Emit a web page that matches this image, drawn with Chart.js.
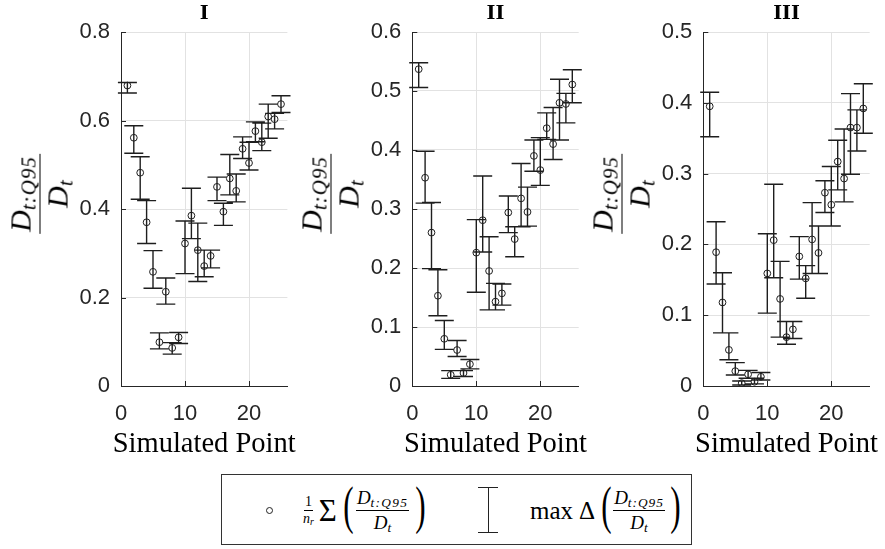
<!DOCTYPE html>
<html><head><meta charset="utf-8">
<script src="https://cdn.jsdelivr.net/npm/chart.js@4.4.1/dist/chart.umd.min.js"></script>
<style>
html,body{margin:0;padding:0;background:#fff;}
body{width:885px;height:549px;position:relative;overflow:hidden;}
canvas{position:absolute;top:0;}
.ml{position:absolute;z-index:5;white-space:nowrap;color:#000;font-family:"Liberation Serif",serif;}
.ylab{transform:translate(-50%,-50%) rotate(-90deg);}
.frac{display:inline-flex;flex-direction:column;align-items:center;}
.frac>span{display:block;text-align:center;white-space:nowrap;}
.frac>.n{border-bottom:1.2px solid #000;}
i{font-style:italic;}
sub{font-size:0.7em;vertical-align:-0.25em;line-height:0;font-style:italic;}
.par{display:inline-block;font-size:52px;line-height:1;width:11px;text-align:center;transform:scaleX(0.6);position:relative;top:-4px;font-family:"Liberation Serif",serif;}
</style>
</head><body>
<canvas id="c1" width="300" height="460" style="left:0px"></canvas>
<canvas id="c2" width="300" height="460" style="left:290px"></canvas>
<canvas id="c3" width="302" height="460" style="left:583px"></canvas>

<div class="ml ylab" style="left:39px;top:194px">
  <span class="frac" style="font-size:30px;line-height:1">
    <span class="n" style="padding:0 2px 4px"><i>D</i><sub style="letter-spacing:1px">t:Q95</sub></span>
    <span class="d" style="padding-top:2px"><i>D</i><sub>t</sub></span>
  </span>
</div>
<div class="ml ylab" style="left:330px;top:194px">
  <span class="frac" style="font-size:30px;line-height:1">
    <span class="n" style="padding:0 2px 4px"><i>D</i><sub style="letter-spacing:1px">t:Q95</sub></span>
    <span class="d" style="padding-top:2px"><i>D</i><sub>t</sub></span>
  </span>
</div>
<div class="ml ylab" style="left:621px;top:194px">
  <span class="frac" style="font-size:30px;line-height:1">
    <span class="n" style="padding:0 2px 4px"><i>D</i><sub style="letter-spacing:1px">t:Q95</sub></span>
    <span class="d" style="padding-top:2px"><i>D</i><sub>t</sub></span>
  </span>
</div>

<div style="position:absolute;left:221px;top:474px;width:469px;height:69px;border:1.5px solid #333;"></div>
<div style="position:absolute;left:266px;top:506.5px;width:7px;height:7px;border:1px solid #222;border-radius:50%;box-sizing:border-box;"></div>
<div class="ml" style="left:303px;top:510px;transform:translateY(-50%);display:flex;align-items:center;">
  <span class="frac" style="font-size:14px;line-height:1">
    <span class="n" style="padding:0 1px 1px">1</span>
    <span class="d" style="padding-top:1px"><i>n</i><sub>r</sub></span>
  </span>
  <span style="font-size:31px;line-height:1;margin:0 4px 0 5px;">Σ</span>
  <span class="par">(</span>
  <span class="frac" style="font-size:19px;line-height:1;margin:0 4px">
    <span class="n" style="padding:0 1px 3px"><i>D</i><sub style="letter-spacing:1.3px">t:Q95</sub></span>
    <span class="d" style="padding-top:2px"><i>D</i><sub>t</sub></span>
  </span>
  <span class="par">)</span>
</div>
<div style="position:absolute;left:487.5px;top:487px;width:1.4px;height:46px;background:#222;"></div>
<div style="position:absolute;left:478px;top:486.5px;width:20px;height:1.4px;background:#222;"></div>
<div style="position:absolute;left:478px;top:532px;width:20px;height:1.4px;background:#222;"></div>
<div class="ml" style="left:530px;top:510px;transform:translateY(-50%);display:flex;align-items:center;">
  <span style="font-size:25px;line-height:1;margin-right:6px;">max</span>
  <span style="font-size:25px;line-height:1;margin-right:4px;">Δ</span>
  <span class="par">(</span>
  <span class="frac" style="font-size:19px;line-height:1;margin:0 3px">
    <span class="n" style="padding:0 1px 3px"><i>D</i><sub style="letter-spacing:1px">t:Q95</sub></span>
    <span class="d" style="padding-top:2px"><i>D</i><sub>t</sub></span>
  </span>
  <span class="par">)</span>
</div>

<script>
// ---- data ----
const points = [1,2,3,4,5,6,7,8,9,10,11,12,13,14,15,16,17,18,19,20,21,22,23,24,25];
const xTicks = [0,10,20];

const titleI = 'I', titleII = 'II', titleIII = 'III';
const yTicksI = [0,0.2,0.4,0.6,0.8];
const meanI = [0.679,0.561,0.482,0.370,0.258,0.099,0.213,0.086,0.110,0.322,0.385,0.307,0.271,0.294,0.450,0.394,0.469,0.441,0.536,0.504,0.576,0.551,0.609,0.603,0.637];
const lowI  = [0.662,0.526,0.422,0.322,0.221,0.084,0.185,0.072,0.096,0.254,0.333,0.236,0.247,0.267,0.419,0.363,0.432,0.416,0.514,0.488,0.552,0.532,0.560,0.581,0.618];
const highI = [0.686,0.588,0.518,0.419,0.306,0.120,0.244,0.098,0.121,0.373,0.447,0.368,0.307,0.307,0.472,0.413,0.523,0.479,0.563,0.551,0.597,0.594,0.637,0.616,0.656];

const yTicksII = [0,0.1,0.2,0.3,0.4,0.5,0.6];
const meanII = [0.537,0.353,0.260,0.153,0.080,0.019,0.061,0.022,0.037,0.226,0.281,0.195,0.143,0.157,0.294,0.249,0.318,0.295,0.390,0.366,0.437,0.410,0.480,0.478,0.511];
const lowII  = [0.506,0.310,0.199,0.119,0.062,0.013,0.050,0.016,0.029,0.159,0.227,0.129,0.129,0.137,0.260,0.219,0.270,0.271,0.364,0.340,0.418,0.384,0.417,0.446,0.480];
const highII = [0.548,0.398,0.311,0.197,0.111,0.026,0.077,0.026,0.045,0.282,0.356,0.253,0.174,0.173,0.322,0.270,0.377,0.337,0.417,0.421,0.463,0.472,0.520,0.496,0.536];

const yTicksIII = [0,0.1,0.2,0.3,0.4,0.5];
const meanIII = [0.395,0.189,0.118,0.051,0.021,0.004,0.0165,0.006,0.013,0.159,0.206,0.123,0.069,0.080,0.183,0.152,0.207,0.188,0.273,0.256,0.317,0.293,0.365,0.365,0.392];
const lowIII  = [0.352,0.144,0.075,0.037,0.0155,0.0014,0.011,0.003,0.0085,0.103,0.153,0.069,0.059,0.067,0.151,0.124,0.159,0.159,0.245,0.226,0.277,0.260,0.299,0.332,0.357];
const highIII = [0.415,0.232,0.160,0.075,0.033,0.007,0.022,0.011,0.019,0.215,0.285,0.176,0.091,0.091,0.211,0.170,0.259,0.226,0.290,0.310,0.347,0.363,0.413,0.390,0.427];

const xLabel = 'Simulated Point';

// ---- style ----
const AX = '#262626', GRID = '#e2e2e2', MARK = '#1e1e1e', CAP = 9.5;
const SERIF = "'Liberation Serif', 'Times New Roman', serif";
const TSERIF = "'DejaVu Serif', serif";
const SANS = "'Liberation Sans', Arial, sans-serif";

const errorBars = {
  id: 'errorBars',
  beforeDatasetsDraw(chart) {
    const {ctx, scales: {x, y}} = chart;
    const ds = chart.data.datasets[0];
    ctx.save();
    ctx.strokeStyle = MARK; ctx.lineWidth = 1.4;
    ctx.beginPath();
    ds.data.forEach((d, i) => {
      const px = x.getPixelForValue(d.x);
      const pl = y.getPixelForValue(ds.errLo[i]);
      const ph = y.getPixelForValue(ds.errHi[i]);
      ctx.moveTo(px, pl); ctx.lineTo(px, ph);
      ctx.moveTo(px - CAP, ph); ctx.lineTo(px + CAP, ph);
      ctx.moveTo(px - CAP, pl); ctx.lineTo(px + CAP, pl);
    });
    ctx.stroke();
    ctx.restore();
  }
};

// inward tick marks + x-axis label (drawn without width squeezing)
const axisExtras = {
  id: 'axisExtras',
  afterDraw(chart) {
    const {ctx, chartArea: a, scales: {x, y}} = chart;
    ctx.save();
    ctx.strokeStyle = AX; ctx.lineWidth = 1;
    ctx.beginPath();
    x.ticks.forEach(t => {
      const px = Math.round(x.getPixelForValue(t.value)) + 0.5;
      ctx.moveTo(px, a.bottom); ctx.lineTo(px, a.bottom - 5);
    });
    y.ticks.forEach(t => {
      const py = Math.round(y.getPixelForValue(t.value)) + 0.5;
      ctx.moveTo(a.left, py); ctx.lineTo(a.left + 5, py);
    });
    ctx.stroke();
    ctx.fillStyle = '#000';
    ctx.font = "28.5px " + SERIF;
    ctx.textAlign = 'center';
    ctx.textBaseline = 'alphabetic';
    ctx.fillText(xLabel, (a.left + a.right) / 2, a.bottom + 66);
    ctx.restore();
  }
};

function panel(id, title, means, lows, highs, yTicks, yAxisW, padR) {
  return new Chart(document.getElementById(id), {
    type: 'scatter',
    data: {
      datasets: [{
        data: points.map((p, i) => ({x: p, y: means[i]})),
        errLo: lows, errHi: highs,
        pointRadius: 3.4, pointHoverRadius: 3.4, pointBorderWidth: 1,
        pointBorderColor: MARK, pointBackgroundColor: 'rgba(0,0,0,0)',
        showLine: false
      }]
    },
    options: {
      responsive: false, animation: false, devicePixelRatio: 1, events: [],
      layout: {padding: {left: 0, right: padR, top: 0, bottom: 0}},
      plugins: {
        legend: {display: false}, tooltip: {enabled: false},
        title: {display: true, text: title, fullSize: false, color: '#000',
          font: {family: TSERIF, size: 19, weight: 'bold', lineHeight: 1.2},
          padding: {top: 2.2, bottom: 7}}
      },
      scales: {
        x: {
          type: 'linear', min: 0, max: 26,
          afterBuildTicks: s => { s.ticks = xTicks.map(v => ({value: v})); },
          afterFit: s => { s.height = 74; },
          grid: {color: GRID, lineWidth: 1, drawTicks: false},
          border: {color: AX, width: 1},
          ticks: {padding: 15, color: AX, maxRotation: 0, autoSkip: false,
            font: {family: SANS, size: 22}, callback: v => String(v)}
        },
        y: {
          type: 'linear', min: yTicks[0], max: yTicks[yTicks.length - 1],
          afterBuildTicks: s => { s.ticks = yTicks.map(v => ({value: v})); },
          afterFit: s => { s.width = yAxisW; },
          grid: {color: GRID, lineWidth: 1, drawTicks: false},
          border: {color: AX, width: 1},
          ticks: {padding: 11, color: AX, autoSkip: false,
            font: {family: SANS, size: 22}, callback: v => String(v)}
        }
      }
    },
    plugins: [errorBars, axisExtras]
  });
}

panel('c1', titleI, meanI, lowI, highI, yTicksI, 121, 12.6);
panel('c2', titleII, meanII, lowII, highII, yTicksII, 122.3, 11.3);
panel('c3', titleIII, meanIII, lowIII, highIII, yTicksIII, 120.3, 15.3);
</script>
</body></html>
